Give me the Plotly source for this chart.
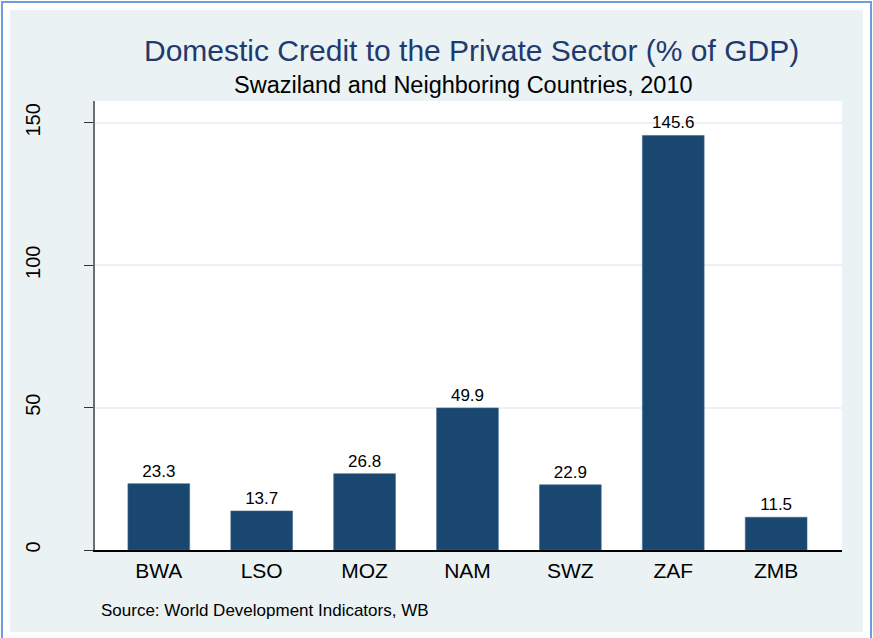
import plotly.graph_objects as go

# Domestic credit to the private sector, % of GDP, 2010
countries = ["BWA", "LSO", "MOZ", "NAM", "SWZ", "ZAF", "ZMB"]
credit_pct_gdp = [23.3, 13.7, 26.8, 49.9, 22.9, 145.6, 11.5]
y_ticks = [0, 50, 100, 150]

W, H = 873, 638
# plot-area edges in pixels
L, R, T, B = 95, 842, 101, 550

FONT = "Liberation Sans, Arial, sans-serif"
BAR = "#1A476F"
REGION = "#EAF2F3"


def px(x):
    return (x - L) / (R - L)


def py(y):
    return (B - y) / (B - T)


fig = go.Figure(
    go.Bar(
        x=countries,
        y=credit_pct_gdp,
        width=0.6,
        marker=dict(color=BAR, line=dict(color="#3E6A92", width=0.6)),
        text=[f"{v:.1f}" for v in credit_pct_gdp],
        textposition="outside",
        textfont=dict(family=FONT, size=17, color="black"),
        cliponaxis=False,
        hoverinfo="x+y",
    )
)

shapes = [
    # outer frame
    dict(type="rect", xref="paper", yref="paper", layer="below",
         x0=px(2), x1=px(871), y0=py(645), y1=py(2),
         line=dict(color="#6D9DDB", width=2), fillcolor="white"),
    # graph region
    dict(type="rect", xref="paper", yref="paper", layer="below",
         x0=px(10), x1=px(863), y0=py(632), y1=py(10),
         line=dict(width=0), fillcolor=REGION),
    # plot region
    dict(type="rect", xref="paper", yref="paper", layer="below",
         x0=0, x1=1, y0=0, y1=1,
         line=dict(width=0), fillcolor="white"),
]

annotations = [
    dict(text="Domestic Credit to the Private Sector (% of GDP)",
         xref="paper", yref="paper", x=px(471), y=py(50),
         xanchor="center", yanchor="middle", showarrow=False,
         font=dict(family=FONT, size=30, color="#1F3A6E")),
    dict(text="Swaziland and Neighboring Countries, 2010",
         xref="paper", yref="paper", x=px(463), y=py(85),
         xanchor="center", yanchor="middle", showarrow=False,
         font=dict(family=FONT, size=23.5, color="black")),
    dict(text="Source: World Development Indicators, WB",
         xref="paper", yref="paper", x=px(99), y=py(610),
         xanchor="left", yanchor="middle", showarrow=False,
         font=dict(family=FONT, size=17, color="black")),
]

fig.update_layout(
    width=W, height=H,
    margin=dict(l=L, r=W - R, t=T, b=H - B, pad=0),
    paper_bgcolor="white",
    plot_bgcolor="rgba(0,0,0,0)",
    showlegend=False,
    bargap=0.4,
    shapes=shapes,
    annotations=annotations,
    font=dict(family=FONT, color="black"),
)

fig.update_xaxes(
    type="category",
    range=[-0.62, 6.64],
    showline=True, linecolor="black", linewidth=1.5,
    showgrid=False, ticks="",
    tickfont=dict(family=FONT, size=21, color="black"),
    ticklabelstandoff=1,
)

fig.update_yaxes(
    range=[0, 157.7],
    tickvals=y_ticks,
    ticktext=[str(v) for v in y_ticks],
    tickangle=-90,
    ticks="outside", ticklen=9, tickwidth=1.2, tickcolor="#333333",
    showline=True, linecolor="#6E6E6E", linewidth=1.5,
    showgrid=True, gridcolor=REGION, gridwidth=2,
    zeroline=False,
    tickfont=dict(family=FONT, size=20, color="black"),
    ticklabelstandoff=36,
)

fig.write_html("out.html")
